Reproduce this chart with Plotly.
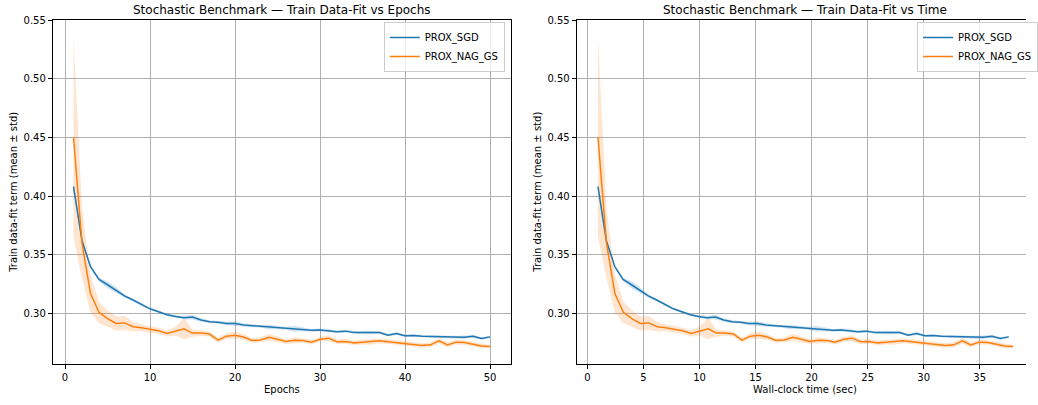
import plotly.graph_objects as go

# ---- benchmark results (mean and std over runs, per epoch) ----
epochs = list(range(1, 51))

sgd_mean = [0.408, 0.362, 0.340, 0.329, 0.3245, 0.320, 0.315, 0.3115, 0.3075, 0.304,
            0.3015, 0.299, 0.2975, 0.2963, 0.297, 0.2945, 0.293, 0.2926, 0.2915, 0.2915,
            0.2903, 0.2897, 0.289, 0.2885, 0.288, 0.2875, 0.287, 0.2864, 0.2857, 0.286,
            0.2855, 0.2844, 0.2850, 0.2839, 0.2839, 0.2836, 0.2839, 0.2816, 0.283, 0.281,
            0.2813, 0.2807, 0.2804, 0.2801, 0.2798, 0.2798, 0.2798, 0.2807, 0.2787, 0.2801]
sgd_std = [0.003, 0.002, 0.0015, 0.0015, 0.003, 0.0025, 0.0015, 0.001, 0.001, 0.001,
           0.001, 0.001, 0.0012, 0.0015, 0.002, 0.0015, 0.0012, 0.001, 0.0015, 0.002,
           0.0015, 0.0012, 0.0012, 0.002, 0.0015, 0.0012, 0.0025, 0.0015, 0.0012, 0.0012,
           0.0015, 0.001, 0.0012, 0.001, 0.0015, 0.0015, 0.0012, 0.001, 0.0012, 0.001,
           0.001, 0.001, 0.0012, 0.001, 0.001, 0.0012, 0.0015, 0.0012, 0.001, 0.001]

nag_mean = [0.450, 0.360, 0.317, 0.301, 0.2957, 0.2915, 0.292, 0.2887, 0.2878, 0.2864,
            0.2853, 0.283, 0.285, 0.287, 0.2833, 0.2833, 0.2825, 0.2773, 0.2807, 0.2815,
            0.280, 0.277, 0.2775, 0.2798, 0.278, 0.2761, 0.2773, 0.277, 0.2756, 0.278,
            0.2790, 0.2759, 0.2762, 0.2750, 0.2756, 0.276, 0.2767, 0.276, 0.2753, 0.2744,
            0.2739, 0.2728, 0.2733, 0.2767, 0.2733, 0.2756, 0.2753, 0.2736, 0.2724, 0.2719]
nag_std = [0.085, 0.030, 0.016, 0.009, 0.007, 0.006, 0.006, 0.004, 0.003, 0.003,
           0.0025, 0.0025, 0.004, 0.009, 0.003, 0.0025, 0.002, 0.002, 0.0025, 0.003,
           0.0025, 0.002, 0.002, 0.003, 0.0025, 0.002, 0.0025, 0.002, 0.002, 0.002,
           0.0025, 0.002, 0.002, 0.002, 0.002, 0.0025, 0.002, 0.002, 0.002, 0.002,
           0.002, 0.002, 0.002, 0.0025, 0.002, 0.002, 0.002, 0.002, 0.002, 0.0015]

# cumulative wall-clock time (sec) at the end of each epoch
sgd_time = [0.94, 1.69, 2.44, 3.18, 3.93, 4.68, 5.43, 6.18, 6.92, 7.67,
            8.42, 9.17, 9.92, 10.66, 11.41, 12.16, 12.91, 13.66, 14.40, 15.15,
            15.90, 16.65, 17.40, 18.14, 18.89, 19.64, 20.39, 21.14, 21.88, 22.63,
            23.38, 24.13, 24.88, 25.62, 26.37, 27.12, 27.87, 28.62, 29.36, 30.11,
            30.86, 31.61, 32.36, 33.10, 33.85, 34.60, 35.35, 36.10, 36.84, 37.59]
nag_time = [0.94, 1.70, 2.45, 3.21, 3.96, 4.72, 5.48, 6.23, 6.99, 7.74,
            8.50, 9.26, 10.01, 10.77, 11.52, 12.28, 13.04, 13.79, 14.55, 15.30,
            16.06, 16.82, 17.57, 18.33, 19.08, 19.84, 20.60, 21.35, 22.11, 22.86,
            23.62, 24.38, 25.13, 25.89, 26.64, 27.40, 28.16, 28.91, 29.67, 30.42,
            31.18, 31.94, 32.69, 33.45, 34.20, 34.96, 35.72, 36.47, 37.23, 37.98]

epoch_ticks = [0, 10, 20, 30, 40, 50]
time_ticks = [0, 5, 10, 15, 20, 25, 30, 35]
y_ticks = [0.30, 0.35, 0.40, 0.45, 0.50, 0.55]

methods = [
    ("PROX_SGD", sgd_mean, sgd_std, sgd_time, "#1f77b4", "rgba(31,119,180,0.2)"),
    ("PROX_NAG_GS", nag_mean, nag_std, nag_time, "#ff7f0e", "rgba(255,127,14,0.2)"),
]

FONT = "DejaVu Sans"
W, H = 1038, 405
MT, MB = 20, 41
PH = H - MT - MB

fig = go.Figure()

panels = [("x", "y", "legend", None), ("x2", "y2", "legend2", "time")]

# shaded mean ± std bands underneath the mean curves
for xa, ya, lg, kind in panels:
    for name, mean, std, tvals, col, fcol in methods:
        xs = tvals if kind == "time" else epochs
        upper = [m + s for m, s in zip(mean, std)]
        lower = [m - s for m, s in zip(mean, std)]
        fig.add_trace(go.Scatter(
            x=xs + xs[::-1], y=upper + lower[::-1],
            fill="toself", fillcolor=fcol, line=dict(width=0),
            mode="lines", hoverinfo="skip", showlegend=False,
            xaxis=xa, yaxis=ya))

for xa, ya, lg, kind in panels:
    for name, mean, std, tvals, col, fcol in methods:
        xs = tvals if kind == "time" else epochs
        fig.add_trace(go.Scatter(
            x=xs, y=mean, mode="lines", name=name,
            line=dict(color=col, width=1.5),
            legend=lg, xaxis=xa, yaxis=ya))

axis_common = dict(
    showline=True, linecolor="black", linewidth=0.8,
    ticks="outside", ticklen=4, tickwidth=0.8, tickcolor="black",
    showgrid=True, gridcolor="#b0b0b0", gridwidth=0.8,
    zeroline=False, tickfont=dict(family=FONT, size=10, color="black"),
    automargin=False,
)

legend_style = dict(y=1 - 2 / PH, yanchor="top",
                    bgcolor="rgba(255,255,255,0.8)", bordercolor="#cccccc",
                    borderwidth=1, font=dict(family=FONT, size=10, color="black"))

fig.update_layout(
    width=W, height=H,
    margin=dict(l=0, r=0, t=MT, b=MB, pad=0),
    paper_bgcolor="white", plot_bgcolor="white",
    font=dict(family=FONT, size=10, color="black"),
    xaxis=dict(domain=[53.3 / W, 516.8 / W], range=[-1.45, 52.45],
               tickvals=epoch_ticks, anchor="y", mirror=True, **axis_common),
    yaxis=dict(domain=[0, 1], range=[0.257, 0.55], tickvals=y_ticks,
               tickformat=".2f", anchor="x", mirror=True, **axis_common),
    xaxis2=dict(domain=[583.3 / W, 1.0], range=[-0.97, 39.13],
                tickvals=time_ticks, anchor="y2", mirror=True, **axis_common),
    yaxis2=dict(domain=[0, 1], range=[0.257, 0.55], tickvals=y_ticks,
                tickformat=".2f", anchor="x2", mirror=False, **axis_common),
    legend=dict(x=510.7 / W, xanchor="right", **legend_style),
    legend2=dict(x=927.7 / W, xanchor="left", **legend_style),
)

# panel titles and axis labels
def py(px):
    return (H - MB - px) / PH

texts = [
    ("Stochastic Benchmark — Train Data-Fit vs Epochs", 285.0, 10, 12, 0),
    ("Stochastic Benchmark — Train Data-Fit vs Time", 814.5, 10, 12, 0),
    ("Epochs", 285.0, 390, 10, 0),
    ("Wall-clock time (sec)", 814.5, 390, 10, 0),
    ("Train data-fit term (mean ± std)", 13.0, 192, 10, -90),
    ("Train data-fit term (mean ± std)", 543.0, 192, 10, -90),
]
for txt, xpx, ypx, size, ang in texts:
    fig.add_annotation(text=txt, xref="paper", yref="paper",
                       x=xpx / W, y=py(ypx), xanchor="center", yanchor="middle",
                       showarrow=False, textangle=ang,
                       font=dict(family=FONT, size=size, color="black"))

fig.write_html("out.html")
